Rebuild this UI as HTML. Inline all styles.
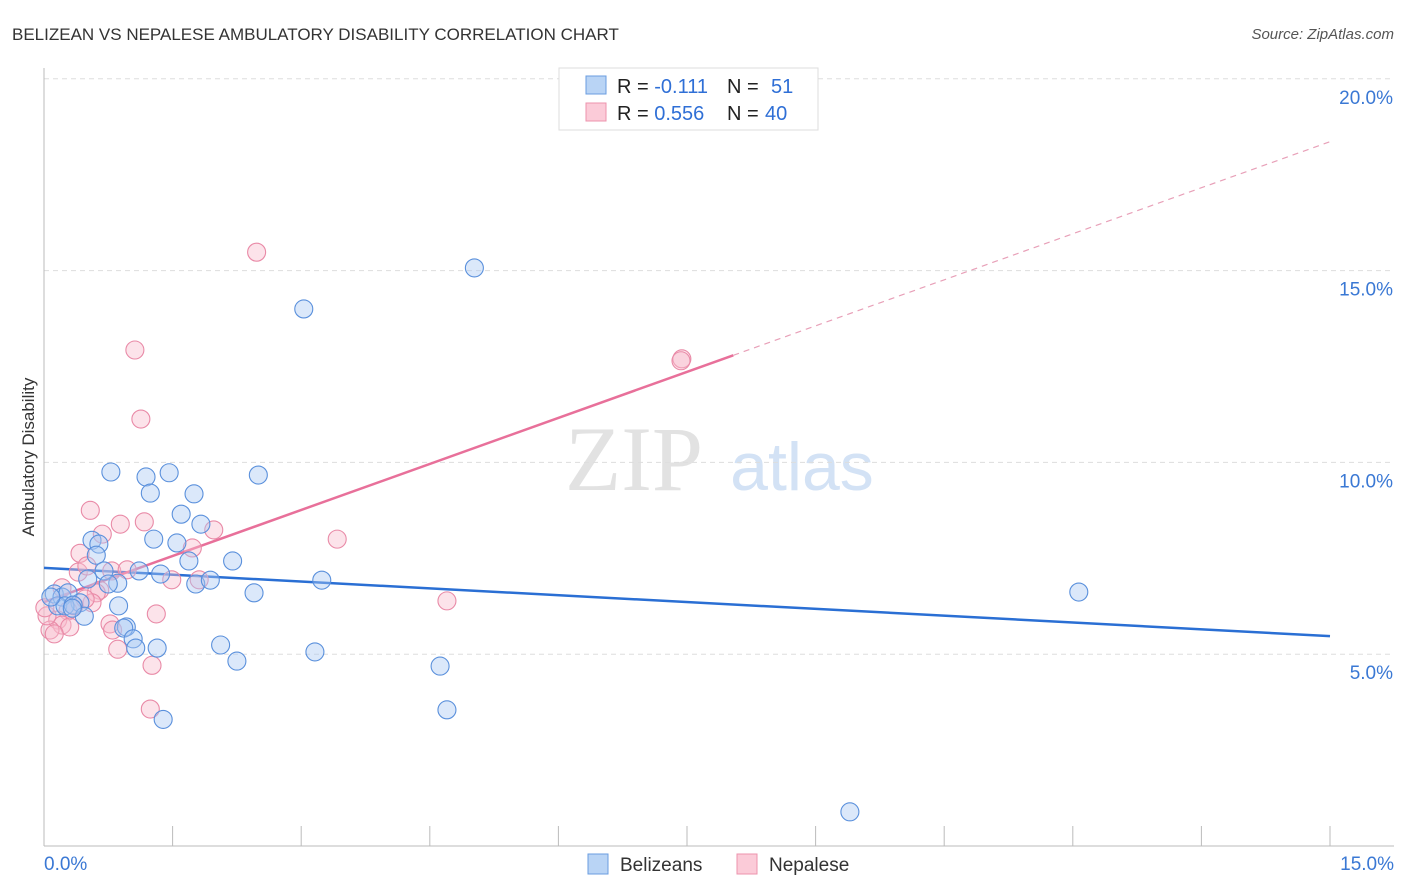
<!DOCTYPE html>
<html><head><meta charset="utf-8"><style>
body{margin:0;background:#fff;font-family:"Liberation Sans",sans-serif;}
svg{display:block}
</style></head><body>
<svg id="c" width="1406" height="892" xmlns="http://www.w3.org/2000/svg">
<text x="12" y="40" font-size="17" fill="#333">BELIZEAN VS NEPALESE AMBULATORY DISABILITY CORRELATION CHART</text>
<text x="1394" y="39" font-size="15" fill="#555" font-style="italic" text-anchor="end">Source: ZipAtlas.com</text>
<text transform="translate(34,457) rotate(-90)" font-size="17" fill="#333" text-anchor="middle">Ambulatory Disability</text>
<g><text x="634" y="490" font-size="92" fill="#e2e2e2" font-family="Liberation Serif,serif" text-anchor="middle">ZIP</text><text x="802" y="490" font-size="68" fill="#d3e2f5" text-anchor="middle">atlas</text></g>
<g id="grid"></g><g id="axes"></g><g id="lines"></g><g id="pts"></g>
<g>
<rect x="559" y="68" width="259" height="62" fill="#fff" stroke="#ddd"/>
<rect x="586" y="76" width="20" height="18" fill="#b9d4f5" stroke="#6a9de0"/>
<rect x="586" y="103" width="20" height="18" fill="#fbcbd8" stroke="#ec93ad"/>
<text x="617" y="93" font-size="20" fill="#222">R = <tspan fill="#2f6fd6">-0.111</tspan><tspan x="727">N = </tspan><tspan x="771" fill="#2f6fd6">51</tspan></text>
<text x="617" y="120" font-size="20" fill="#222">R = <tspan fill="#2f6fd6">0.556</tspan><tspan x="727">N = </tspan><tspan x="765" fill="#2f6fd6">40</tspan></text>
</g>
<g>
<rect x="588" y="854" width="20" height="20" fill="#b9d4f5" stroke="#6a9de0"/>
<text x="620" y="871" font-size="19" fill="#333">Belizeans</text>
<rect x="737" y="854" width="20" height="20" fill="#fbcbd8" stroke="#ec93ad"/>
<text x="769" y="871" font-size="19" fill="#333">Nepalese</text>
</g>
</svg>
<script>
const yTicks=[5,10,15,20];
const yTickLabels=["5.0%","10.0%","15.0%","20.0%"];
const xLabels=["0.0%","15.0%"];
const blueX=[0.78,1.19,1.46,2.50,1.24,1.75,1.60,1.83,1.28,0.56,0.64,1.55,0.61,1.69,2.20,1.11,0.70,1.36,0.51,0.86,0.75,1.77,1.94,3.24,0.12,0.21,0.28,0.42,0.16,0.245,0.34,0.47,0.87,2.45,0.96,0.93,1.04,1.07,1.32,2.06,2.25,3.16,4.62,4.70,1.39,3.03,5.02,12.07,9.40,0.08,0.33];
const blueY=[9.75,9.62,9.73,9.67,9.20,9.18,8.65,8.39,8.00,7.97,7.87,7.90,7.58,7.43,7.43,7.17,7.17,7.09,6.96,6.85,6.83,6.83,6.93,6.93,6.57,6.49,6.60,6.34,6.26,6.26,6.28,5.99,6.26,6.60,5.71,5.68,5.40,5.16,5.16,5.24,4.82,5.06,4.69,3.55,3.30,14.00,15.07,6.62,0.89,6.49,6.20];
const pinkX=[2.48,1.06,1.13,0.54,0.89,1.17,1.98,3.42,0.68,1.73,0.42,0.40,0.50,0.79,0.97,1.49,1.81,0.65,0.61,0.21,0.56,0.35,0.28,0.16,0.21,0.30,0.77,0.80,0.07,0.12,0.86,1.26,1.24,1.31,4.70,7.44,7.43,0.035,0.01,0.48];
const pinkY=[15.48,12.93,11.13,8.75,8.39,8.45,8.24,8.00,8.13,7.77,7.63,7.14,7.30,7.17,7.20,6.94,6.94,6.67,6.60,6.73,6.34,6.26,6.13,5.89,5.76,5.71,5.79,5.63,5.63,5.53,5.13,4.71,3.57,6.05,6.39,12.70,12.65,6.00,6.21,6.44];
const blueTrend=[7.25,5.47];
const pinkTrend=[6.36,18.36];
const pinkSolidEnd=8.04;
const NS="http://www.w3.org/2000/svg";
const X=v=>44+v*(1286/15), Y=v=>846-v*38.36;
function mk(t,a,p){const e=document.createElementNS(NS,t);for(const k in a)e.setAttribute(k,a[k]);p.appendChild(e);return e;}
const grid=document.getElementById('grid'),axes=document.getElementById('axes'),lines=document.getElementById('lines'),pts=document.getElementById('pts');
yTicks.forEach((t,i)=>{
 const l=mk('line',{x1:44,x2:1394,y1:Y(t),y2:Y(t),stroke:'#ddd','stroke-dasharray':'5,4'},grid);
 
 
 const tx=mk('text',{x:1393,y:Y(t)+25,'font-size':19,fill:'#3a78d4','text-anchor':'end'},axes);
 tx.textContent=yTickLabels[i];
 
 
});
const ax=mk('line',{x1:44,x2:44,y1:68,y2:846,stroke:'#bbb'},axes);


const bx=mk('line',{x1:44,x2:1394,y1:846,y2:846,stroke:'#bbb'},axes);


for(let i=0;i<=10;i++){const tk=mk('line',{x1:X(i*1.5),x2:X(i*1.5),y1:826,y2:846,stroke:'#bbb'},axes);
 
 }
const xl0=mk('text',{x:44,y:870,'font-size':19,fill:'#3a78d4'},axes);xl0.textContent=xLabels[0];


const xl1=mk('text',{x:1394,y:870,'font-size':19,fill:'#3a78d4','text-anchor':'end'},axes);xl1.textContent=xLabels[1];


function dot(x,y,f,s,n){const c=mk('circle',{cx:X(x),cy:Y(y),r:9,fill:f,'fill-opacity':0.42,stroke:s,'stroke-width':1.1},pts);
 
 }
pinkX.forEach((x,i)=>dot(x,pinkY[i],'#f9bccd','#e98aa7','nepalese-point'));
blueX.forEach((x,i)=>dot(x,blueY[i],'#a9c9f2','#5a90dc','belizean-point'));
const bl=mk('line',{x1:X(0),y1:Y(blueTrend[0]),x2:X(15),y2:Y(blueTrend[1]),stroke:'#2a6fd4','stroke-width':2.5},lines);


const pv=x=>pinkTrend[0]+(pinkTrend[1]-pinkTrend[0])*x/15;
const ps=mk('line',{x1:X(0),y1:Y(pv(0)),x2:X(pinkSolidEnd),y2:Y(pv(pinkSolidEnd)),stroke:'#e8709a','stroke-width':2.5},lines);


const pd=mk('line',{x1:X(pinkSolidEnd),y1:Y(pv(pinkSolidEnd)),x2:X(15),y2:Y(pv(15)),stroke:'#e8a0b8','stroke-width':1.2,'stroke-dasharray':'6,5'},lines);


</script>
</body></html>
